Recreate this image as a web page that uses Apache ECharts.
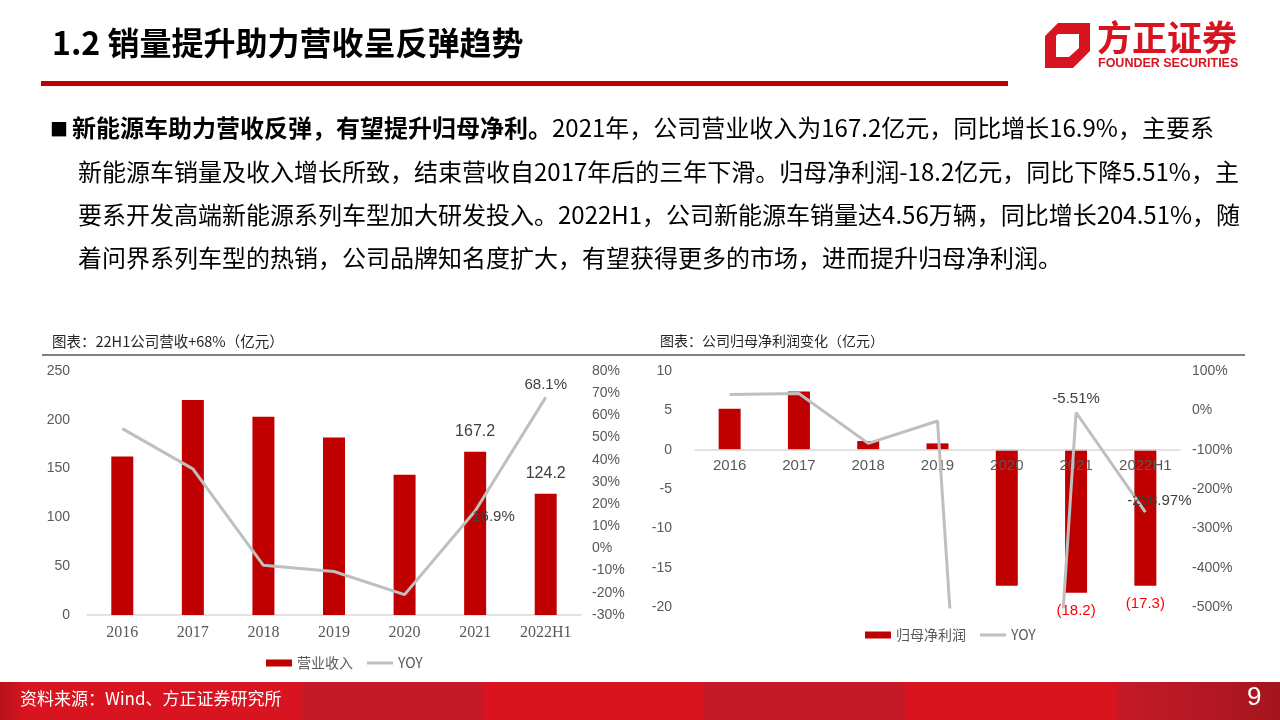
<!DOCTYPE html>
<html><head><meta charset="utf-8">
<script src="https://cdn.jsdelivr.net/npm/echarts@6/dist/echarts.min.js"></script>
<style>html,body{margin:0;padding:0;background:#fff}#c{width:1280px;height:720px}</style>
</head><body><div id="c"></div>
<script>
// ---- data ----
const categories = ['2016', '2017', '2018', '2019', '2020', '2021', '2022H1'];
const revenue = [162.4, 220.3, 203.1, 181.9, 143.6, 167.2, 124.2];          // 营业收入 (亿元)
const revenueYoy = [54.0, 35.9, -7.6, -10.4, -20.8, 16.9, 68.1];             // YOY (%)
const netProfit = [5.2, 7.4, 1.1, 0.8, -17.3, -18.2, -17.3];                 // 归母净利润 (亿元)
const netProfitYoy = [40, 43, -84, -27, -2700, -5.51, -258.97];              // YOY (%)
const revenueTicks = [0, 50, 100, 150, 200, 250];
const revenueYoyTicks = [-30, -20, -10, 0, 10, 20, 30, 40, 50, 60, 70, 80];
const profitTicks = [-20, -15, -10, -5, 0, 5, 10];
const profitYoyTicks = [-500, -400, -300, -200, -100, 0, 100];
const revenueLabeled = ['2021', '2022H1'];
const revenueYoyLabeled = ['2021', '2022H1'];
const profitLabeled = ['2021', '2022H1'];
const profitYoyLabeled = ['2021', '2022H1'];

// ---- helpers ----
const RED = '#C00000', GRAY = '#BFBFBF', AX = '#595959';
const CJK = '"Noto Sans CJK SC", "Noto Sans", sans-serif';
const SANS = '"Liberation Sans", Arial, sans-serif';
const SERIF = '"Liberation Serif", "Times New Roman", serif';
function range(t) { return { min: t[0], max: t[t.length - 1], interval: t[1] - t[0] }; }
function withLabels(vals, labeled, label) {
  return vals.map((v, i) => labeled.includes(categories[i]) ? { value: v, label: Object.assign({ show: true }, label(i, v)) } : v);
}

// grid geometry (layout only)
const G1 = { left: 695, right: 100, top: 371, bottom: 113 };
const g1Height = 720 - G1.top - G1.bottom;
const p = range(profitTicks);
const zeroOffset = -g1Height * (0 - p.min) / (p.max - p.min);   // lift the category axis to the zero line

const chart = echarts.init(document.getElementById('c'), null, { renderer: 'canvas' });

const option = {
  animation: false,
  backgroundColor: '#fff',
  grid: [
    { left: 87, right: 699, top: 371, bottom: 105, outerBoundsMode: 'none' },
    Object.assign({ outerBoundsMode: 'none' }, G1)
  ],
  legend: [
    {
      left: 261, top: 651, itemWidth: 26, itemHeight: 7, itemGap: 14,
      textStyle: { color: AX, fontSize: 14, fontFamily: CJK },
      data: [{ name: '营业收入', icon: 'rect' }, { name: 'YOY', icon: 'path://M0 0H26V3H0Z', itemStyle: { color: GRAY } }]
    },
    {
      left: 860, top: 623, itemWidth: 26, itemHeight: 7, itemGap: 14,
      textStyle: { color: AX, fontSize: 14, fontFamily: CJK },
      data: [{ name: '归母净利润', icon: 'rect' }, { name: 'YOY', icon: 'path://M0 0H26V3H0Z', itemStyle: { color: GRAY } }]
    }
  ],
  xAxis: [
    {
      gridIndex: 0, type: 'category', data: categories,
      axisLine: { lineStyle: { color: '#D9D9D9', width: 1.5 } }, axisTick: { show: false },
      axisLabel: { color: AX, fontSize: 16, fontFamily: SERIF, margin: 10, interval: 0 }
    },
    {
      gridIndex: 1, type: 'category', data: categories, offset: zeroOffset, z: 10,
      axisLine: { onZero: false, lineStyle: { color: '#D9D9D9', width: 1.5 } }, axisTick: { show: false },
      axisLabel: { color: AX, fontSize: 15, fontFamily: SANS, margin: 9, interval: 0 }
    }
  ],
  yAxis: [
    Object.assign({ gridIndex: 0, type: 'value', position: 'left', splitLine: { show: false },
      axisLine: { show: false }, axisTick: { show: false },
      axisLabel: { color: AX, fontSize: 14, fontFamily: SANS, margin: 17 } }, range(revenueTicks)),
    Object.assign({ gridIndex: 0, type: 'value', position: 'right', splitLine: { show: false },
      axisLine: { show: false }, axisTick: { show: false },
      axisLabel: { color: AX, fontSize: 14, fontFamily: SANS, margin: 11, formatter: '{value}%' } }, range(revenueYoyTicks)),
    Object.assign({ gridIndex: 1, type: 'value', position: 'left', splitLine: { show: false },
      axisLine: { show: false }, axisTick: { show: false },
      axisLabel: { color: AX, fontSize: 14, fontFamily: SANS, margin: 23 } }, range(profitTicks)),
    Object.assign({ gridIndex: 1, type: 'value', position: 'right', splitLine: { show: false },
      axisLine: { show: false }, axisTick: { show: false },
      axisLabel: { color: AX, fontSize: 14, fontFamily: SANS, margin: 12, formatter: '{value}%' } }, range(profitYoyTicks))
  ],
  series: [
    {
      name: '营业收入', type: 'bar', xAxisIndex: 0, yAxisIndex: 0, barWidth: 22,
      itemStyle: { color: RED },
      data: withLabels(revenue, revenueLabeled, () => ({ position: 'top', distance: 12, color: '#404040', fontSize: 16, fontFamily: SANS }))
    },
    {
      name: 'YOY', type: 'line', xAxisIndex: 0, yAxisIndex: 1,
      symbol: 'circle', symbolSize: 0.1, showSymbol: true,
      lineStyle: { color: GRAY, width: 3 }, itemStyle: { color: GRAY },
      data: withLabels(revenueYoy, revenueYoyLabeled, (i, v) => ({
        position: i === categories.length - 1 ? 'top' : 'right',
        offset: i === categories.length - 1 ? [0, 0] : [-8, 6],
        distance: 5, formatter: v.toFixed(1) + '%', color: '#404040', fontSize: 15, fontFamily: SANS
      }))
    },
    {
      name: '归母净利润', type: 'bar', xAxisIndex: 1, yAxisIndex: 2, barWidth: 22, z: 2,
      itemStyle: { color: RED },
      data: withLabels(netProfit, profitLabeled, (i, v) => ({
        position: 'bottom', distance: 11, formatter: '(' + Math.abs(v).toFixed(1) + ')', color: '#FF0000', fontSize: 15, fontFamily: SANS
      }))
    },
    {
      name: 'YOY', type: 'line', xAxisIndex: 1, yAxisIndex: 3, z: 12,
      symbol: 'circle', symbolSize: 0.1, showSymbol: true,
      lineStyle: { color: GRAY, width: 3 }, itemStyle: { color: GRAY },
      data: withLabels(netProfitYoy, profitYoyLabeled, (i, v) => ({
        position: 'top', distance: 6,
        offset: i === categories.length - 1 ? [14, 2] : [0, 0],
        formatter: v.toFixed(2) + '%', color: '#404040', fontSize: 15, fontFamily: SANS
      }))
    }
  ],
  graphic: [
    // header
    { type: 'text', left: 52, top: 27, style: { text: '1.2 销量提升助力营收呈反弹趋势', font: 'bold 32px ' + CJK, fill: '#000' } },
    { type: 'rect', shape: { x: 41, y: 81, width: 967, height: 5 }, style: { fill: RED } },
    // logo
    { type: 'polygon', shape: { points: [[1058, 23], [1090, 23], [1090, 51], [1073, 68], [1045, 68], [1045, 36]] }, style: { fill: '#D7141F' } },
    { type: 'polygon', shape: { points: [[1058, 34], [1079, 34], [1079, 48], [1069, 57], [1056, 57], [1056, 36]] }, style: { fill: '#fff' } },
    { type: 'text', left: 1097, top: 20, style: { text: '方正证券', font: 'bold 35px ' + CJK, fill: '#D7141F' } },
    { type: 'text', left: 1098, top: 57, style: { text: 'FOUNDER SECURITIES', font: 'bold 12.5px ' + SANS, fill: '#D7141F' } },
    // bullet + body text
    { type: 'text', left: 50, top: 120, style: { text: '■', font: '18px ' + CJK, fill: '#000' } },
    { type: 'text', left: 72, top: 116, style: {
      text: '{b|新能源车助力营收反弹，有望提升归母净利。}{n|2021年，公司营业收入为167.2亿元，同比增长16.9%，主要系}',
      rich: { b: { font: 'bold 24px ' + CJK, fill: '#000' }, n: { font: '24px ' + CJK, fill: '#000' } } } },
    { type: 'text', left: 78, top: 160, style: { text: '新能源车销量及收入增长所致，结束营收自2017年后的三年下滑。归母净利润-18.2亿元，同比下降5.51%，主', font: '24px ' + CJK, fill: '#000' } },
    { type: 'text', left: 78, top: 203, style: { text: '要系开发高端新能源系列车型加大研发投入。2022H1，公司新能源车销量达4.56万辆，同比增长204.51%，随', font: '24px ' + CJK, fill: '#000' } },
    { type: 'text', left: 78, top: 246, style: { text: '着问界系列车型的热销，公司品牌知名度扩大，有望获得更多的市场，进而提升归母净利润。', font: '24px ' + CJK, fill: '#000' } },
    // chart titles
    { type: 'text', left: 52, top: 334, style: { text: '图表：22H1公司营收+68%（亿元）', font: '14.5px ' + CJK, fill: '#262626' } },
    { type: 'rect', shape: { x: 42, y: 354, width: 598, height: 2 }, style: { fill: '#7F7F7F' } },
    { type: 'text', left: 660, top: 334, style: { text: '图表：公司归母净利润变化（亿元）', font: '14px ' + CJK, fill: '#262626' } },
    { type: 'rect', shape: { x: 640, y: 354, width: 605, height: 2 }, style: { fill: '#7F7F7F' } },
    // footer
    { type: 'rect', shape: { x: 0, y: 682, width: 1280, height: 38 }, style: {
      fill: new echarts.graphic.LinearGradient(0, 0, 1, 0, [
        { offset: 0, color: '#B8121C' }, { offset: 0.02, color: '#D7141F' },
        { offset: 0.235, color: '#D7141F' }, { offset: 0.237, color: '#C41A28' },
        { offset: 0.376, color: '#C41A28' }, { offset: 0.378, color: '#D9141E' },
        { offset: 0.548, color: '#D9141E' }, { offset: 0.55, color: '#C41A28' },
        { offset: 0.706, color: '#C41A28' }, { offset: 0.708, color: '#D9141E' },
        { offset: 0.872, color: '#D9141E' }, { offset: 0.874, color: '#C41A28' },
        { offset: 1, color: '#A5151E' }
      ]) } },
    { type: 'text', left: 20, top: 690, style: { text: '资料来源：Wind、方正证券研究所', font: '17px ' + CJK, fill: '#fff' } },
    { type: 'text', left: 1247, top: 685, style: { text: '9', font: '26px ' + SANS, fill: '#fff' } }
  ]
};
chart.setOption(option);
</script>
</body></html>
